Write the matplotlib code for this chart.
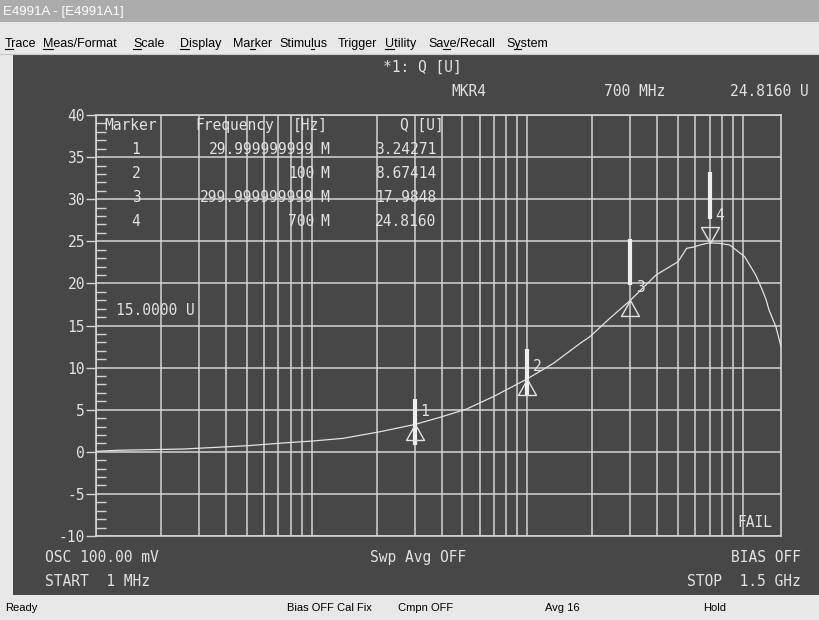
#!/usr/bin/env python3
"""
E4991A screen capture: Q [U] trace from 1 MHz to 1.5 GHz with four markers.
"""

import matplotlib
matplotlib.use('Agg')
import matplotlib.pyplot as plt
from matplotlib.patches import Rectangle
from matplotlib.lines import Line2D
from matplotlib.ticker import LogLocator, MultipleLocator, NullFormatter

plt.rcParams['axes.unicode_minus'] = False

# Trace, frequency in MHz
freq_mhz = [1, 1.26, 2.53, 3.88, 5.01, 7.68, 10.1, 14.0, 20.8, 30, 39.4, 52.3,
            69.5, 100, 132, 176, 195, 241, 300, 395, 500, 548, 586, 640, 700,
            779, 868, 1018, 1145, 1229, 1278, 1320, 1420, 1500]
q_values = [0.05, 0.18, 0.33, 0.57, 0.72, 1.08, 1.28, 1.6, 2.39, 3.24, 4.1, 5.08,
            6.55, 8.67, 10.5, 12.9, 13.67, 15.85, 17.98, 21.0, 22.58, 24.17, 24.3,
            24.6, 24.82, 24.76, 24.56, 23.17, 21.0, 19.2, 18.1, 16.84, 14.86, 12.5]

# Markers
marker_ids = ['1', '2', '3', '4']
marker_freq_mhz = [30, 100, 300, 700]
marker_q = [3.24271, 8.67414, 17.9848, 24.8160]
marker_freq_text = ['29.999999999', '100', '299.999999999', '700']
marker_q_text = ['3.24271', '8.67414', '17.9848', '24.8160']
marker_bar_lo = [0.8, 6.7, 19.8, 27.7]
marker_bar_hi = [6.3, 12.2, 25.3, 33.2]

y_ticks = [40, 35, 30, 25, 20, 15, 10, 5, 0, -5, -10]

menu_items = [('Trace', 5, 0), ('Meas/Format', 43, 0), ('Scale', 133, 0),
              ('Display', 180, 0), ('Marker', 233, 2), ('Stimulus', 279, 5),
              ('Trigger', 338, None), ('Utility', 385, 0), ('Save/Recall', 428, 2),
              ('System', 506, 1)]
status_items = [('Ready', 5), ('Bias OFF', 287), ('Cal Fix', 337),
                ('Cmpn OFF', 398), ('Avg 16', 545), ('Hold', 703)]

# Colours
DARK = '#474747'
FG = '#e2e2e2'
GRID = '#d4d4d4'
TITLE_BG = '#acacac'
MENU_BG = '#e8e8e8'
MONO = 'DejaVu Sans Mono'
SANS = 'Liberation Sans'

W, H = 819, 620


def fx(x):
    return x / W


def fy(y):
    return 1 - y / H


def rect(fig, x0, y0, x1, y1, color):
    fig.add_artist(Rectangle((fx(x0), fy(y1)), fx(x1) - fx(x0), fy(y0) - fy(y1),
                             transform=fig.transFigure, color=color, lw=0, zorder=0))


def screen_text(fig, x, y, s, ha='left', size=10.5, color=FG, family=MONO):
    # y is the vertical centre of the capitals
    return fig.text(fx(x), fy(y + size * 0.36), s, ha=ha, va='baseline',
                    fontsize=size, color=color, family=family)


def main():
    fig = plt.figure(figsize=(W / 100, H / 100), dpi=100)
    fig.patch.set_facecolor(MENU_BG)

    # Window chrome
    rect(fig, 0, 0, W, 22, TITLE_BG)
    rect(fig, 0, 22, W, 54, MENU_BG)
    rect(fig, 13, 54, W, 595, DARK)
    rect(fig, 0, 595, W, H, MENU_BG)
    fig.add_artist(Line2D([0, 1], [fy(53.5), fy(53.5)], transform=fig.transFigure,
                          color='#c8c8c8', lw=0.8))

    fig.text(fx(3), fy(12), 'E4991A - [E4991A1]', ha='left', va='center',
             fontsize=9.5, color='white', family=SANS)

    renderer = fig.canvas.get_renderer()
    for label, x, idx in menu_items:
        fig.text(fx(x), fy(47), label, ha='left', va='baseline', fontsize=9,
                 color='black', family=SANS)
        if idx is None:
            continue
        w0 = 0
        if idx > 0:
            pre = fig.text(0, 0, label[:idx], fontsize=9, family=SANS)
            w0 = pre.get_window_extent(renderer).width
            pre.remove()
        pre2 = fig.text(0, 0, label[:idx + 1], fontsize=9, family=SANS)
        w1 = pre2.get_window_extent(renderer).width
        pre2.remove()
        fig.add_artist(Line2D([fx(x + w0), fx(x + w1)], [fy(49), fy(49)],
                              transform=fig.transFigure, color='black', lw=0.8))

    for label, x in status_items:
        fig.text(fx(x), fy(611), label, ha='left', va='baseline', fontsize=8,
                 color='black', family=SANS)

    # Measurement grid
    ax = fig.add_axes([fx(96), fy(536), fx(781) - fx(96), fy(115) - fy(536)])
    ax.set_facecolor(DARK)
    ax.set_xscale('log')
    ax.set_xlim(1, 1500)
    ax.set_ylim(-10, 40)

    ax.xaxis.set_major_locator(LogLocator(base=10))
    ax.xaxis.set_minor_locator(LogLocator(base=10, subs=range(2, 10)))
    ax.xaxis.set_minor_formatter(NullFormatter())
    ax.tick_params(axis='x', which='both', length=0, labelbottom=False)

    ax.set_yticks(y_ticks)
    ax.set_yticklabels([str(v) for v in y_ticks], family=MONO)
    ax.yaxis.set_minor_locator(MultipleLocator(1))
    ax.tick_params(axis='y', which='major', direction='out', length=7.5, width=1,
                   color=GRID, labelcolor=FG, labelsize=10.5, pad=0.5)
    ax.tick_params(axis='y', which='minor', direction='in', length=7.5, width=1,
                   color=GRID)

    ax.grid(True, axis='x', which='both', color=GRID, lw=1.1)
    ax.grid(True, axis='y', which='major', color=GRID, lw=1.1)
    for sp in ax.spines.values():
        sp.set_color(GRID)
        sp.set_linewidth(1.2)

    ax.plot(freq_mhz, q_values, color=FG, lw=0.9, zorder=3)

    # Marker bars, triangles and numbers
    ax.vlines(marker_freq_mhz, marker_bar_lo, marker_bar_hi, color='#eeeeee',
              lw=3, zorder=4)
    up = [(0, 0), (-9, -16), (9, -16), (0, 0)]
    down = [(0, 0), (-9, 16), (9, 16), (0, 0)]
    for i, (f, q) in enumerate(zip(marker_freq_mhz, marker_q)):
        active = i == len(marker_ids) - 1
        ax.plot([f], [q], marker=down if active else up, markersize=23,
                fillstyle='none', markeredgecolor=FG, markeredgewidth=1, zorder=5)
        dy = 20 if active else 9
        ax.annotate(marker_ids[i], (f, q), xytext=(7, dy), textcoords='offset points',
                    ha='center', va='center', fontsize=10.5, color=FG, family=MONO)

    # Marker table
    screen_text(fig, 104, 126, 'Marker')
    screen_text(fig, 195, 126, 'Frequency')
    screen_text(fig, 293, 126, '[Hz]')
    screen_text(fig, 444, 126, 'Q [U]', ha='right')
    for i in range(len(marker_ids)):
        y = 150 + 24 * i
        screen_text(fig, 136, y, marker_ids[i], ha='center')
        screen_text(fig, 314, y, marker_freq_text[i], ha='right')
        screen_text(fig, 320, y, 'M')
        screen_text(fig, 436, y, marker_q_text[i], ha='right')

    # Annotations around the grid
    screen_text(fig, 383, 68, '*1: Q [U]')
    screen_text(fig, 451, 92, 'MKR4')
    screen_text(fig, 604, 92, '700 MHz')
    screen_text(fig, 809, 92, '24.8160 U', ha='right')
    screen_text(fig, 116, 311, '15.0000 U')
    screen_text(fig, 737, 523, 'FAIL')
    screen_text(fig, 45, 558, 'OSC 100.00 mV')
    screen_text(fig, 370, 558, 'Swp Avg OFF')
    screen_text(fig, 801, 558, 'BIAS OFF', ha='right')
    screen_text(fig, 45, 582, 'START  1 MHz')
    screen_text(fig, 801, 582, 'STOP  1.5 GHz', ha='right')

    fig.savefig('out.png', dpi=100, facecolor=fig.get_facecolor())


if __name__ == '__main__':
    main()
